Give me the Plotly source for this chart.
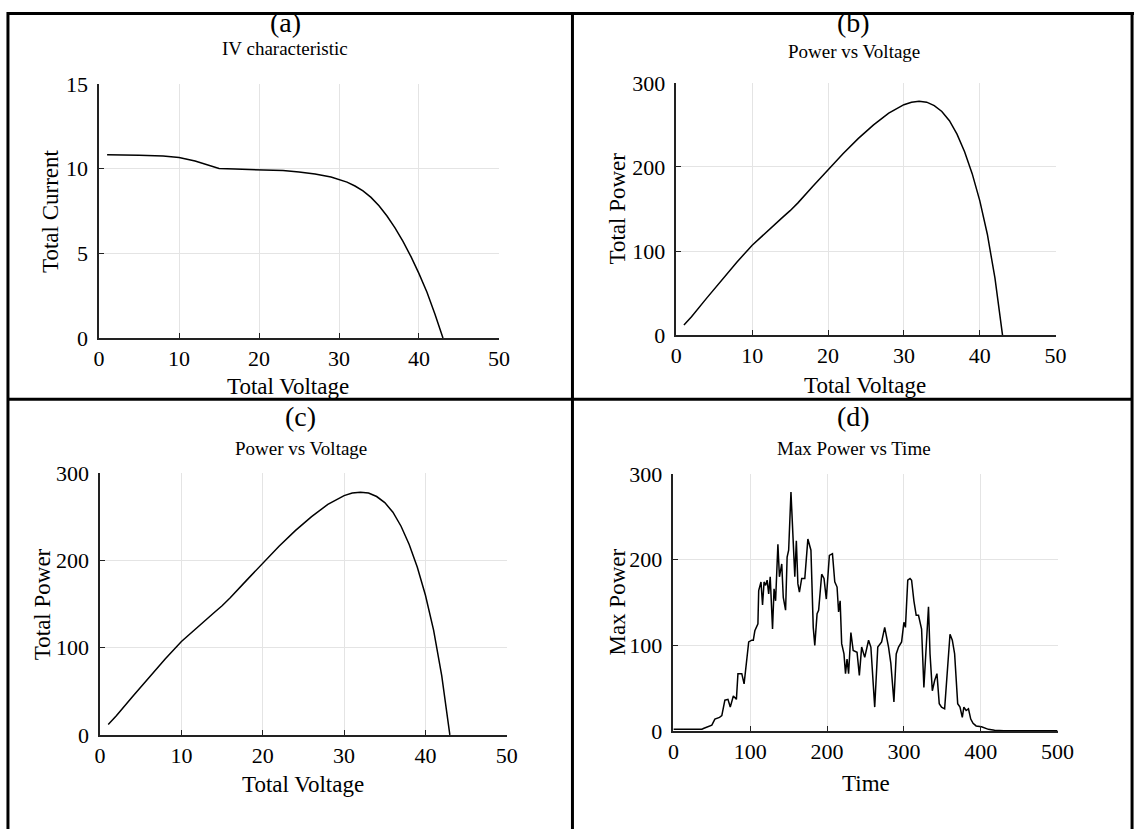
import plotly.graph_objects as go

W, H = 1152, 845

# ---- data -------------------------------------------------------------
iv_voltage = [1, 3, 5, 8, 10, 12, 14, 15, 17, 20, 23, 25, 27, 29, 30, 31, 32,
              33, 34, 35, 36, 37, 38, 39, 40, 41, 42, 42.5, 43]
iv_current = [10.82, 10.81, 10.79, 10.74, 10.65, 10.45, 10.15, 10.0, 9.97, 9.94,
              9.88, 9.8, 9.68, 9.5, 9.37, 9.2, 8.97, 8.68, 8.3, 7.8, 7.2, 6.5,
              5.7, 4.8, 3.8, 2.7, 1.4, 0.7, 0.0]

pv_voltage = [1, 2, 4, 6, 8, 10, 12, 14, 15, 16, 18, 20, 22, 24, 26, 28, 30, 31,
              32, 33, 34, 35, 36, 37, 38, 39, 40, 41, 42, 43]
pv_power = [12, 22, 44, 66, 87, 107, 124, 140, 148, 157, 177, 197, 216, 234, 250,
            264, 274, 277, 278, 277, 273, 266, 255, 239, 218, 192, 160, 120, 68, 0]

time_s = [0, 10, 20, 30, 37, 39, 50, 54, 60, 63, 67, 71, 74, 78, 82, 84, 89, 92,
          95, 98, 102, 104, 106, 110, 111, 114, 116, 118, 120, 122, 124, 126, 129,
          131, 133, 136, 138, 141, 143, 146, 148, 150, 153, 155, 158, 160, 162,
          164, 167, 171, 175, 179, 182, 184, 187, 189, 193, 196, 199, 203, 207,
          210, 213, 215, 217, 219, 222, 224, 226, 228, 231, 234, 239, 242, 245,
          249, 254, 257, 262, 266, 271, 275, 280, 283, 287, 290, 293, 297, 300,
          302, 305, 308, 310, 313, 316, 319, 323, 326, 329, 332, 334, 337, 340,
          343, 346, 349, 353, 357, 360, 363, 366, 370, 373, 376, 378, 381, 384,
          387, 390, 394, 401, 410, 418, 430, 460, 500]
max_power = [2, 2, 2, 2, 2, 3, 7, 14, 16, 18, 36, 37, 28, 41, 37, 67, 67, 55,
             82, 104, 106, 106, 117, 125, 164, 174, 147, 174, 170, 176, 160, 180,
             119, 166, 152, 218, 180, 195, 156, 141, 203, 211, 279, 238, 180,
             222, 172, 162, 178, 178, 224, 211, 121, 100, 137, 141, 183, 178,
             154, 205, 207, 174, 168, 139, 152, 102, 90, 67, 84, 67, 115, 94, 92,
             65, 98, 86, 106, 98, 28, 98, 104, 121, 98, 79, 34, 90, 98, 104, 127,
             121, 176, 178, 176, 152, 135, 135, 119, 51, 94, 145, 90, 47, 59, 67,
             32, 28, 26, 71, 113, 106, 90, 32, 28, 16, 28, 24, 26, 14, 9, 6, 5,
             2, 1, 0.5, 0.5, 0.5]

volt_ticks = [0, 10, 20, 30, 40, 50]
current_ticks = [0, 5, 10, 15]
power_ticks = [0, 100, 200, 300]
time_ticks = [0, 100, 200, 300, 400, 500]

# ---- layout helpers ---------------------------------------------------
FONT = "Liberation Serif"


def px_x(p):
    """figure pixel -> paper fraction (horizontal)"""
    return p / W


def px_y(p):
    """figure pixel -> paper fraction (vertical, measured from the top)"""
    return 1 - p / H


# plot areas in figure pixels: (left, right, top, bottom)
boxes = {
    "a": (95, 503, 74, 336),
    "b": (684, 1071, 73, 333),
    "c": (96, 511, 475, 745),
    "d": (681, 1073, 476, 741),
}

fig = go.Figure()

series = [
    ("a", iv_voltage, iv_current),
    ("b", pv_voltage, pv_power),
    ("c", pv_voltage, pv_power),
    ("d", time_s, max_power),
]
for i, (key, xs, ys) in enumerate(series, start=1):
    suffix = "" if i == 1 else str(i)
    fig.add_trace(go.Scatter(x=xs, y=ys, mode="lines",
                             line=dict(color="black", width=1.5),
                             xaxis="x" + suffix, yaxis="y" + suffix,
                             showlegend=False, hoverinfo="skip"))

axis_cfg = {
    "a": (volt_ticks, [0, 50], current_ticks, [0, 15]),
    "b": (volt_ticks, [0, 50], power_ticks, [0, 300]),
    "c": (volt_ticks, [0, 50], power_ticks, [0, 300]),
    "d": (time_ticks, [0, 500], power_ticks, [0, 300]),
}

common = dict(showline=True, linecolor="#222", linewidth=1.5, ticks="inside",
              ticklen=5, tickcolor="#222", showgrid=True, gridcolor="#e4e4e4",
              gridwidth=1, zeroline=False, mirror=False,
              tickfont=dict(family=FONT, size=22, color="black"))

layout_axes = {}
for i, key in enumerate(["a", "b", "c", "d"], start=1):
    l, r, t, b = boxes[key]
    xt, xr, yt, yr = axis_cfg[key]
    suffix = "" if i == 1 else str(i)
    layout_axes["xaxis" + suffix] = dict(
        domain=[px_x(l), px_x(r)], range=xr, tickvals=xt,
        anchor="y" + suffix, ticklabelstandoff=0, **common)
    layout_axes["yaxis" + suffix] = dict(
        domain=[px_y(b), px_y(t)], range=yr, tickvals=yt,
        anchor="x" + suffix, ticklabelstandoff=5, **common)

fig.update_layout(**layout_axes)

# ---- text --------------------------------------------------------------
texts = [
    # (text, x px, y px, size, angle)
    ("(a)", 285, 11, 28, 0),
    ("IV characteristic", 285, 38, 19, 0),
    ("Total Voltage", 288, 386, 23, 0),
    ("Total Current", 46, 205, 23, -90),
    ("(b)", 865, 11, 28, 0),
    ("Power vs Voltage", 865, 41, 19, 0),
    ("Total Voltage", 876, 385, 23, 0),
    ("Total Power", 624, 203, 23, -90),
    ("(c)", 301, 417, 28, 0),
    ("Power vs Voltage", 301, 450, 19, 0),
    ("Total Voltage", 303, 796, 23, 0),
    ("Total Power", 38, 610, 23, -90),
    ("(d)", 865, 417, 28, 0),
    ("Max Power vs Time", 865, 450, 19, 0),
    ("Time", 878, 795, 23, 0),
    ("Max Power", 623, 608, 23, -90),
]
annotations = []
for txt, x, y, size, ang in texts:
    annotations.append(dict(text=txt, x=px_x(x), y=px_y(y), xref="paper",
                            yref="paper", xanchor="center", yanchor="middle",
                            showarrow=False, textangle=ang,
                            font=dict(family=FONT, size=size, color="black")))

# ---- cell borders ------------------------------------------------------
shapes = []
border = dict(color="black", width=3)
for x0, y0, x1, y1 in [(1, 1.5, 1151, 1.5), (2, 0, 2, H), (1149, 0, 1149, H),
                       (2, 399, 1149, 399), (578, 0, 578, H)]:
    shapes.append(dict(type="line", xref="paper", yref="paper",
                       x0=px_x(x0), y0=px_y(y0), x1=px_x(x1), y1=px_y(y1),
                       line=border))

fig.update_layout(width=W, height=H, margin=dict(l=0, r=0, t=0, b=0),
                  paper_bgcolor="white", plot_bgcolor="white",
                  annotations=annotations, shapes=shapes)

fig.write_html("out.html", config={"displayModeBar": False})
